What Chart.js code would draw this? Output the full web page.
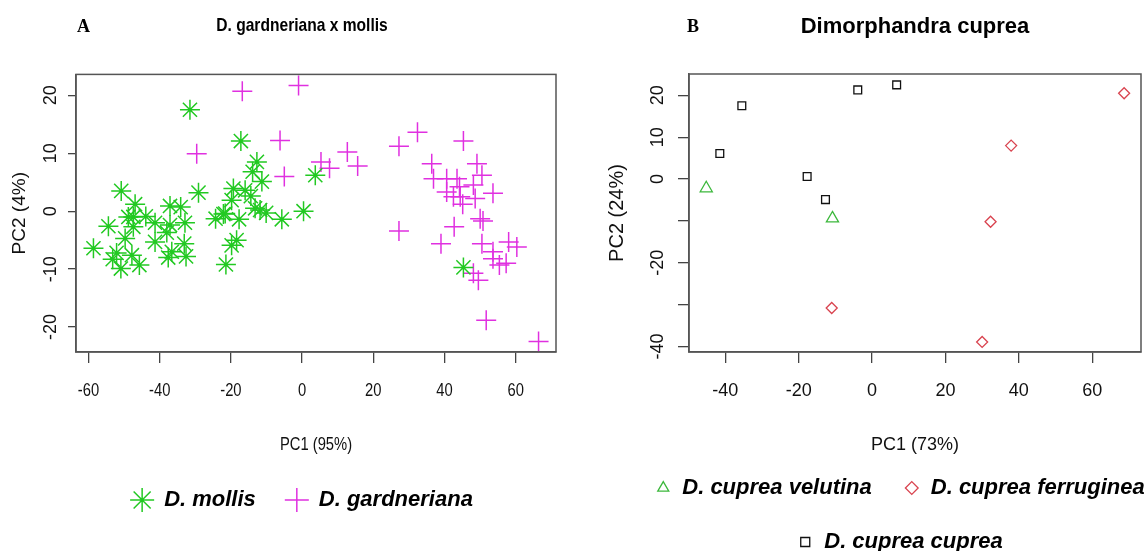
<!DOCTYPE html>
<html>
<head>
<meta charset="utf-8">
<script src="https://cdn.jsdelivr.net/npm/chart.js@4.4.1/dist/chart.umd.min.js"></script>
<style>
  html, body { margin: 0; padding: 0; background: #fff; overflow: hidden; width: 1144px; height: 551px; }
  #chartA { position: absolute; left: 0; top: 0; }
  #chartB { position: absolute; left: 596px; top: 0; }
  .panel { position: absolute; font-family: 'Liberation Serif', 'Times New Roman', serif; font-weight: bold; font-size: 18px; line-height: 18px; color: #000; }
</style>
</head>
<body>
<canvas id="chartA" width="604" height="551"></canvas>
<canvas id="chartB" width="608" height="570"></canvas>
<div class="panel" style="left:77px; top:17px;">A</div>
<div class="panel" style="left:687px; top:17px;">B</div>
<script>
// Panel A: D. gardneriana x mollis (PC1 95%, PC2 4%)
const mollisX = [-31.5, -17.2, -12.7, -13.9, -11.3, -29.1, -50.8, 0.4, -5.7, -10.1, -11.8, -14.4, -16.0, -19.3, -19.8, -17.7, -22.1, -24.3,
  -18.4, -19.8, -21.4, -34.1, -37.1, -32.9, -37.1, -38.0, -41.3, -41.3, -33.1, -36.6, -37.6, -32.6, -43.9, -46.9, -48.8, -47.4,
  -49.7, -54.4, -58.6, -52.1, -53.2, -50.9, -47.8, -45.7, 3.7, 45.3, -13.2, -47.4, -21.6];
const mollisY = [17.5, 12.1, 8.5, 6.8, 5.1, 3.2, 3.5, 0.0, -1.4, -0.3, 0.2, 2.6, 3.6, 3.9, 1.9, -1.4, -0.5, -1.3,
  -5.0, -5.9, -9.2, 0.7, 0.9, -2.0, -2.4, -3.7, -2.0, -5.3, -5.6, -7.0, -8.0, -7.8, -0.9, 1.2, -1.0, -2.7,
  -4.7, -2.6, -6.4, -7.2, -8.3, -9.9, -7.6, -9.3, 6.2, -9.7, 0.5, -1.0, -0.4];

const gardX = [-16.8, -1.0, -29.6, -6.2, -5.0, 5.3, 7.7, 12.7, 15.6, 27.2, 32.4, 27.2, 45.3, 36.4, 36.9, 40.6, 43.5, 49.1, 50.5, 48.1, 40.6,
  44.2, 44.4, 42.5, 45.1, 48.6, 53.6, 50.0, 50.8, 42.7, 39.0, 50.5, 53.6, 53.6, 58.0, 60.3, 55.4, 57.3, 48.1, 49.5, 51.7, 66.4];
const gardY = [20.7, 21.7, 9.9, 12.2, 6.0, 8.5, 7.4, 10.2, 7.8, 11.2, 13.6, -3.4, 12.1, 8.2, 5.6, 5.6, 5.6, 8.2, 6.2, 4.5, 3.3,
  4.2, 2.5, 2.5, 1.2, 2.2, 3.1, -1.3, -1.7, -2.7, -5.6, -5.6, -7.0, -8.2, -5.3, -6.2, -9.3, -9.0, -10.7, -11.9, -18.8, -22.5];

// Panel B: Dimorphandra cuprea (PC1 73%, PC2 24%)
const velutinaX = [-45.2, -10.8];
const velutinaY = [-2.2, -9.4];
const ferrugineaX = [-11.0, 68.7, 37.9, 32.3, 30.0];
const ferrugineaY = [-30.8, 20.5, 8.0, -10.2, -38.9];
const cupreaX = [-35.5, -41.5, -17.7, -12.7, -3.9, 6.7];
const cupreaY = [17.5, 6.1, 0.6, -4.9, 21.3, 22.5];

// R drops the labels that would overlap on the B y axis
const hiddenTicksB = [-30, -10];

Chart.defaults.font.family = "'Liberation Sans', Arial, sans-serif";
Chart.defaults.color = '#111';

function toPoints(xs, ys) {
    return xs.map((x, i) => ({ x: x, y: ys[i] }));
}

// full frame around the plot region, like R's box()
const boxPlugin = {
    id: 'box',
    afterDraw(chart) {
        const a = chart.chartArea;
        const ctx = chart.ctx;
        ctx.save();
        ctx.strokeStyle = '#555';
        ctx.lineWidth = 1.5;
        ctx.strokeRect(a.left, a.top, a.right - a.left, a.bottom - a.top);
        ctx.restore();
    }
};

// panel A's horizontal texts are condensed in the original figure (legend excluded)
const narrowTextPlugin = {
    id: 'narrowText',
    beforeDraw(chart) {
        const ctx = chart.ctx;
        const plain = CanvasRenderingContext2D.prototype.fillText;
        ctx.fillText = function (text, x, y, maxWidth) {
            const m = this.getTransform();
            if (m.b !== 0 || this.font.indexOf('italic') >= 0) {
                return plain.call(this, text, x, y, maxWidth);
            }
            this.save();
            this.translate(x, y);
            this.scale(0.82, 1);
            plain.call(this, text, 0, 0, maxWidth);
            this.restore();
        };
    },
    afterDraw(chart) {
        delete chart.ctx.fillText;
    }
};

function dummyRight(width) {
    return {
        position: 'right',
        display: true,
        grid: { display: false },
        border: { display: false },
        ticks: { display: false },
        afterFit: s => { s.width = width; }
    };
}

new Chart(document.getElementById('chartA'), {
    type: 'scatter',
    data: {
        datasets: [{
            label: 'D. mollis',
            data: toPoints(mollisX, mollisY),
            pointStyle: 'star',
            radius: 10,
            borderColor: '#22c922',
            backgroundColor: 'transparent',
            borderWidth: 1.5
        }, {
            label: 'D. gardneriana',
            data: toPoints(gardX, gardY),
            pointStyle: 'cross',
            radius: 10,
            borderColor: '#e030e0',
            backgroundColor: 'transparent',
            borderWidth: 1.5
        }]
    },
    options: {
        responsive: false,
        animation: false,
        devicePixelRatio: 1,
        events: [],
        layout: { padding: { left: 0, right: 0, top: 0, bottom: 30 } },
        scales: {
            x: {
                type: 'linear',
                min: -63.5,
                max: 71.3,
                ticks: { stepSize: 20, includeBounds: false, maxRotation: 0, padding: 17, font: { size: 18 } },
                grid: { drawOnChartArea: false, tickLength: 11, color: '#444', lineWidth: 1.3 },
                border: { color: '#555', width: 1.5 },
                title: { display: true, text: 'PC1 (95%)', font: { size: 18 }, padding: { top: 0, bottom: 3 } },
                afterFit: s => { s.height = 107; }
            },
            y: {
                type: 'linear',
                min: -24.3,
                max: 23.6,
                ticks: { stepSize: 10, includeBounds: false, minRotation: 90, maxRotation: 90, crossAlign: 'center', padding: 4, font: { size: 18 } },
                grid: { drawOnChartArea: false, tickLength: 8, color: '#444', lineWidth: 1.3 },
                border: { color: '#555', width: 1.5 },
                title: { display: true, text: 'PC2 (4%)', font: { size: 19 }, padding: { top: 8, bottom: 0 } },
                afterFit: s => { s.width = 76; }
            },
            y2: dummyRight(48)
        },
        plugins: {
            title: {
                display: true,
                text: 'D. gardneriana x mollis',
                color: '#000',
                font: { size: 19, weight: 'bold' },
                padding: { top: 14, bottom: 37.6 }
            },
            legend: {
                position: 'bottom',
                labels: {
                    usePointStyle: true,
                    boxHeight: 17,
                    boxWidth: 22,
                    padding: 30,
                    color: '#000',
                    font: { size: 22, weight: 'bold', style: 'italic' }
                }
            },
            tooltip: { enabled: false }
        }
    },
    plugins: [narrowTextPlugin, boxPlugin]
});

new Chart(document.getElementById('chartB'), {
    type: 'scatter',
    data: {
        datasets: [{
            label: 'D. cuprea velutina',
            data: toPoints(velutinaX, velutinaY),
            pointStyle: 'triangle',
            radius: 7,
            borderColor: '#3cb83c',
            backgroundColor: 'transparent',
            borderWidth: 1.3
        }, {
            label: 'D. cuprea ferruginea',
            data: toPoints(ferrugineaX, ferrugineaY),
            pointStyle: 'rectRot',
            radius: 5.5,
            borderColor: '#d9434f',
            backgroundColor: 'transparent',
            borderWidth: 1.3
        }, {
            label: 'D. cuprea cuprea',
            data: toPoints(cupreaX, cupreaY),
            pointStyle: 'rect',
            radius: 5.5,
            borderColor: '#111',
            backgroundColor: 'transparent',
            borderWidth: 1.3
        }]
    },
    options: {
        responsive: false,
        animation: false,
        devicePixelRatio: 1,
        events: [],
        layout: { padding: { left: 0, right: 0, top: 0, bottom: 7 } },
        scales: {
            x: {
                type: 'linear',
                min: -49.9,
                max: 73.3,
                ticks: { stepSize: 20, includeBounds: false, maxRotation: 0, padding: 17, font: { size: 18 } },
                grid: { drawOnChartArea: false, tickLength: 11, color: '#444', lineWidth: 1.3 },
                border: { color: '#555', width: 1.5 },
                title: { display: true, text: 'PC1 (73%)', font: { size: 18 }, padding: { top: 0, bottom: -10.8 } },
                afterFit: s => { s.height = 93; }
            },
            y: {
                type: 'linear',
                min: -41.3,
                max: 25.1,
                ticks: {
                    stepSize: 10, includeBounds: false, minRotation: 90, maxRotation: 90, crossAlign: 'center', padding: 7,
                    font: { size: 18 },
                    callback: v => hiddenTicksB.includes(Math.round(v)) ? '' : v
                },
                grid: { drawOnChartArea: false, tickLength: 11, color: '#444', lineWidth: 1.3 },
                border: { color: '#555', width: 1.5 },
                title: { display: true, text: 'PC2 (24%)', font: { size: 20 }, padding: { top: 9, bottom: 0 } },
                afterFit: s => { s.width = 93; }
            },
            y2: dummyRight(63)
        },
        plugins: {
            title: {
                display: true,
                fullSize: false,
                text: 'Dimorphandra cuprea',
                color: '#000',
                font: { size: 22, weight: 'bold' },
                padding: { top: 14, bottom: 33.6 }
            },
            legend: {
                position: 'bottom',
                labels: {
                    usePointStyle: true,
                    boxHeight: 9,
                    boxWidth: 16,
                    padding: 32,
                    color: '#000',
                    font: { size: 22, weight: 'bold', style: 'italic' }
                }
            },
            tooltip: { enabled: false }
        }
    },
    plugins: [boxPlugin]
});
</script>
</body>
</html>
